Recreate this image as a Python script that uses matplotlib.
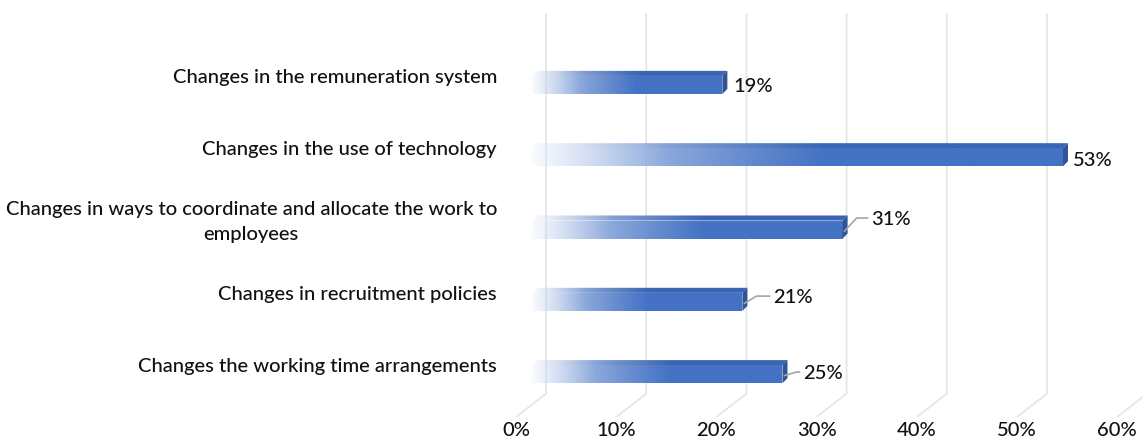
import numpy as np
import matplotlib
matplotlib.use("Agg")
import matplotlib.pyplot as plt
from matplotlib.colors import to_rgba
from matplotlib.patches import Polygon

# ---------------- data ----------------
categories = [
    "Changes in the remuneration system",
    "Changes in the use of technology",
    "Changes in ways to coordinate and allocate the work to\nemployees",
    "Changes in recruitment policies",
    "Changes the working time arrangements",
]
values = [19, 53, 31, 21, 25]
value_labels = ["19%", "53%", "31%", "21%", "25%"]
tick_values = [0, 10, 20, 30, 40, 50, 60]
tick_labels = ["0%", "10%", "20%", "30%", "40%", "50%", "60%"]

# ---------------- style / geometry ----------------
FONT = "Lato"
FS = 14.5
FW = "medium"
TXT = "#111111"
BLUE = "#4472C4"
TOP_BLUE = "#3A65B3"
CAP_BLUE = "#2F5597"
GRID = "#E3E6EA"

DX_BACK = 3.0        # depth offset of back wall (x units)
WALL_TOP = -0.99
FLOOR_BACK = 4.27
FLOOR_FRONT = 4.592
X0 = 1.6             # bar start offset (depth)
HALF_H = 0.125       # half height of bar front face
DDX, DDY = 0.5, 0.07 # bar depth
LABEL_DY = -0.12
# value-label placement: (x gap after bar end, y offset, leader line?)
label_pos = [(1.1, 0.01, False), (1.0, 0.03, False), (2.9, -0.16, True),
             (3.1, -0.08, True), (2.1, -0.03, True)]

W, H = 1143, 439
fig = plt.figure(figsize=(W / 100, H / 100), dpi=100)
ax = fig.add_axes([0, 21 / H, 1, 418 / H])

# back wall grid + floor diagonals
for t in tick_values:
    ax.plot([t + DX_BACK, t + DX_BACK, t], [WALL_TOP, FLOOR_BACK, FLOOR_FRONT],
            color=GRID, lw=1.3, zorder=1, solid_capstyle="butt")


def grad_image(ax, x_left, x_right, y_top, y_bot, c_end, clip, start_alpha=0.2,
               full_frac=0.55):
    n = 256
    f = np.linspace(0, 1, n)
    g = np.clip(f / full_frac, 0, 1)
    g = g ** 0.75
    end = np.array(to_rgba(c_end))
    start = np.array([0.90, 0.93, 0.98, 1.0])
    cols = start[None, :] * (1 - g[:, None]) + end[None, :] * g[:, None]
    cols[:, 3] = start_alpha + (1 - start_alpha) * np.clip(g * 1.8, 0, 1)
    img = cols[None, :, :]
    im = ax.imshow(img, extent=[x_left, x_right, y_bot, y_top], aspect="auto",
                   interpolation="bilinear", zorder=3)
    im.set_clip_path(clip)
    return im


rows = np.arange(len(values))
for i, v in enumerate(values):
    r = rows[i]
    xs, xe = X0, X0 + v
    top, bot = r - HALF_H, r + HALF_H
    # front face
    front = Polygon([[xs, top], [xe, top], [xe, bot], [xs, bot]], closed=True,
                    facecolor="none", edgecolor="none")
    ax.add_patch(front)
    grad_image(ax, xs, xe, top, bot, BLUE, front)
    # top face
    topf = Polygon([[xs, top], [xe, top], [xe + DDX, top - DDY], [xs + DDX, top - DDY]],
                   closed=True, facecolor="none", edgecolor="none")
    ax.add_patch(topf)
    grad_image(ax, xs, xe + DDX, top - DDY, top, TOP_BLUE, topf)
    # end cap
    cap = Polygon([[xe, top], [xe + DDX, top - DDY], [xe + DDX, bot - DDY], [xe, bot]],
                  closed=True, facecolor=CAP_BLUE, edgecolor="none", zorder=4)
    ax.add_patch(cap)

    # value label
    gx, gy, leader = label_pos[i]
    lx, ly = xe + gx, r + gy
    if leader:
        ax.plot([xe + DDX * 0.4, xe + 1.4, lx - 0.4], [r + 0.02, ly, ly],
                color="#A6A6A6", lw=1.2, zorder=5)
    ax.text(lx, ly, value_labels[i], ha="left", va="center", fontsize=FS,
            family=FONT, weight=FW, color=TXT, zorder=6)

    # category label
    ax.text(-1.9, r + LABEL_DY, categories[i], ha="right", va="center",
            multialignment="center", fontsize=FS, family=FONT, weight=FW,
            color=TXT, linespacing=1.62)

ax.set_xticks(tick_values)
ax.set_xticklabels(tick_labels, fontsize=FS, family=FONT, weight=FW, color=TXT)
ax.tick_params(axis="x", length=0, pad=3)
ax.set_yticks([])
for s in ax.spines.values():
    s.set_visible(False)

ax.set_xlim(-51.51, 62.59)
ax.set_ylim(FLOOR_FRONT, -1.189)

fig.savefig("out.png", dpi=100)
